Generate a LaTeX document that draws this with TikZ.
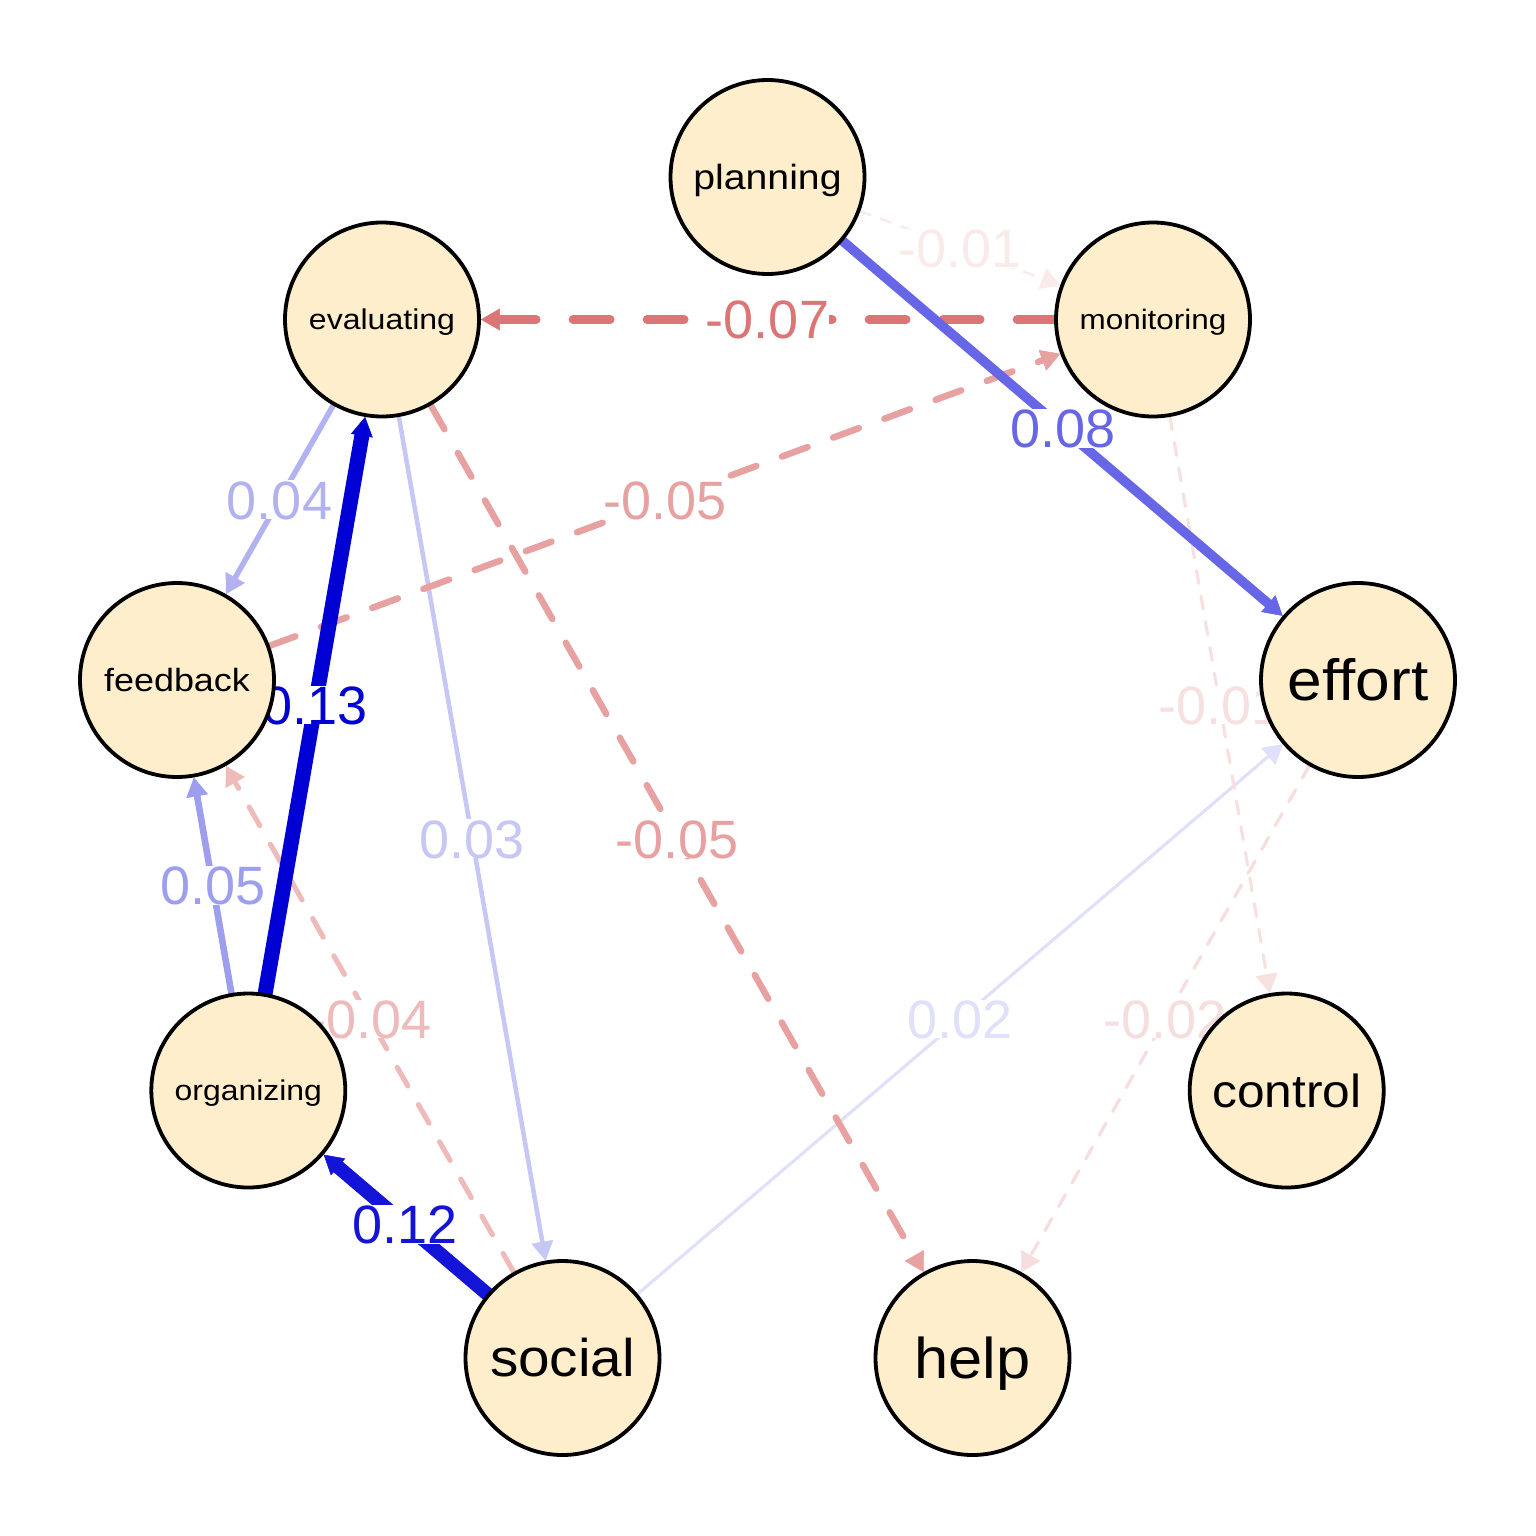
\documentclass[tikz,border=0pt]{standalone}
\usepackage{fontspec}
\setmainfont{Liberation Sans}
\usetikzlibrary{arrows.meta,calc}
\pgfdeclarelayer{bglayer}
\pgfdeclarelayer{edgelayer}
\pgfdeclarelayer{labellayer}
\pgfsetlayers{bglayer,edgelayer,labellayer,main}
\definecolor{posc}{RGB}{0,0,213}
\definecolor{negc}{RGB}{191,0,0}
\definecolor{nodefill}{RGB}{255,238,204}
\tikzset{
  vnode/.style n args={3}{circle, draw=black, line width=3.8pt, fill=nodefill,
    minimum size=194pt, inner sep=0pt, font=\fontsize{#1}{#1}\selectfont,
    text height=#2pt, text depth=0pt},
  edgebase/.style={line cap=round, -{Triangle[length=19pt,width=22pt,line width=0.5pt]}},
  posedge/.style 2 args={edgebase, draw=posc!#1!white, line width=#2pt},
  negedge/.style n args={3}{edgebase, draw=negc!#1!white, line width=#2pt,
    dash pattern=on #3pt off #3pt},
  elab/.style={fill=white, inner sep=0pt, font=\fontsize{54}{54}\selectfont,
    text height=38.7pt, text depth=0pt, text=#1},
}
\begin{document}
\begin{tikzpicture}[x=1pt,y=-1pt]
\useasboundingbox (0,0) rectangle (1536,1536);
\begin{pgfonlayer}{bglayer}
\fill[white] (0,0) rectangle (1536,1536);
\end{pgfonlayer}
% nodes
\node[vnode={35}{25.06}{}] (planning) at (767.5,177) {\scalebox{1.12}[1]{planning}};
\node[vnode={28.1}{20.1}{}] (monitoring) at (1153,319.5) {\scalebox{1.12}[1]{monitoring}};
\node[vnode={28.6}{20.5}{}] (evaluating) at (382,319.5) {\scalebox{1.12}[1]{evaluating}};
\node[vnode={58.1}{41.6}{}] (effort) at (1358,680) {\scalebox{1.07}[1]{effort}};
\node[vnode={32.1}{23.0}{}] (feedback) at (177,680) {\scalebox{1.12}[1]{feedback}};
\node[vnode={46.4}{33.2}{}] (control) at (1286.7,1090.5) {\scalebox{1.07}[1]{control}};
\node[vnode={28.5}{20.4}{}] (organizing) at (248.3,1090.5) {\scalebox{1.12}[1]{organizing}};
\node[vnode={53}{37.9}{}] (social) at (562.5,1358) {\scalebox{1.07}[1]{social}};
\node[vnode={57.4}{41.1}{}] (help) at (972.5,1358) {\scalebox{1.07}[1]{help}};
% edges, weakest first
\begin{pgfonlayer}{edgelayer}
\draw[negedge={8}{2.6}{10.9}] (planning) -- (monitoring);
\draw[posedge={12}{3.1}] (social) -- (effort);
\draw[negedge={12}{3.1}{13}] (monitoring) -- (control);
\draw[negedge={13}{3.25}{13.7}] (effort) -- (help);
\draw[posedge={22}{4.5}] (evaluating) -- (social);
\draw[posedge={30}{5.5}] (evaluating) -- (feedback);
\draw[negedge={27}{5.1}{21.4}] (social) -- (feedback);
\draw[posedge={38}{6.6}] (organizing) -- (feedback);
\draw[negedge={37}{6.5}{27.3}] (feedback) -- (monitoring);
\draw[negedge={37}{6.5}{27.3}] (evaluating) -- (help);
\draw[negedge={54}{8.8}{37}] (monitoring) -- (evaluating);
\draw[posedge={60}{9.6}] (planning) -- (effort);
\draw[posedge={92}{13.9}] (social) -- (organizing);
\draw[posedge={100}{15}] (organizing) -- (evaluating);
\end{pgfonlayer}
% edge labels
\begin{pgfonlayer}{labellayer}
\node[elab=negc!8!white] (l1) at ($(planning)!0.5!(monitoring)$) {-0.01};
\node[elab=posc!12!white] (l2) at ($(social)!0.5!(effort)$) {0.02};
\node[elab=negc!12!white] (l3) at ($(monitoring)!0.5!(control)$) {-0.01};
\node[elab=negc!13!white] (l4) at ($(effort)!0.5!(help)$) {-0.02};
\node[elab=posc!22!white] (l5) at ($(evaluating)!0.5!(social)$) {0.03};
\node[elab=posc!30!white] (l6) at ($(evaluating)!0.5!(feedback)$) {0.04};
\node[elab=negc!27!white] (l7) at ($(social)!0.5!(feedback)$) {-0.04};
\node[elab=posc!38!white] (l8) at ($(organizing)!0.5!(feedback)$) {0.05};
\node[elab=negc!37!white] (l9) at ($(feedback)!0.5!(monitoring)$) {-0.05};
\node[elab=negc!37!white] (l10) at ($(evaluating)!0.5!(help)$) {-0.05};
\node[elab=negc!54!white] (l11) at ($(monitoring)!0.5!(evaluating)$) {-0.07};
\node[elab=posc!60!white] (l12) at ($(planning)!0.5!(effort)$) {0.08};
\node[elab=posc!92!white] (l13) at ($(social)!0.5!(organizing)$) {0.12};
\node[elab=posc!100!white] (l14) at ($(organizing)!0.5!(evaluating)$) {0.13};
\end{pgfonlayer}
\end{tikzpicture}
\end{document}
